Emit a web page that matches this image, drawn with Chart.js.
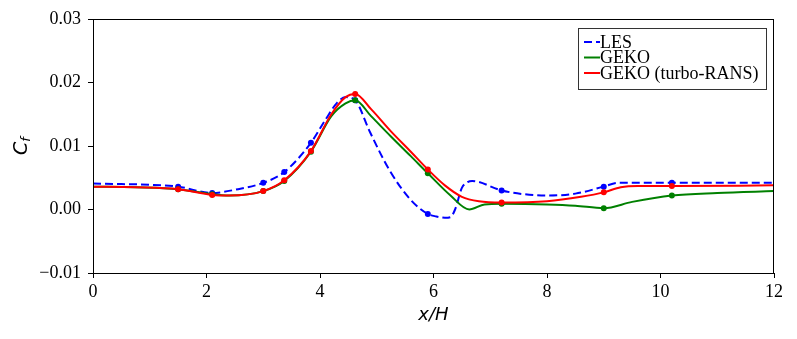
<!DOCTYPE html>
<html>
<head>
<meta charset="utf-8">
<script src="https://cdn.jsdelivr.net/npm/chart.js@4/dist/chart.umd.min.js"></script>
<style>
  html, body { margin: 0; padding: 0; background: #fff; }
  #wrap { width: 797px; height: 339px; }
</style>
</head>
<body>
<div id="wrap"><canvas id="cf" width="797" height="339"></canvas></div>
<script>
// data
const lesX  = [0, 0.5, 1.0, 1.5, 2.1, 2.5, 3.0, 3.37, 3.84, 4.1, 4.3, 4.45, 4.62, 4.88, 5.23, 5.6, 5.9, 6.05, 6.2, 6.3, 6.38, 6.5, 6.6, 6.68, 7.2, 7.6, 8.0, 8.5, 9.0, 9.25, 10.2, 11.0, 12.0];
const lesY  = [0.0041, 0.0040, 0.0039, 0.0036, 0.0026, 0.0031, 0.0042, 0.0059, 0.0105, 0.0142, 0.0168, 0.0177, 0.0172, 0.0122, 0.0061, 0.0015, -0.0007, -0.0011, -0.0013, -0.0012, 0.0000, 0.0034, 0.0043, 0.0045, 0.0030, 0.0024, 0.0022, 0.0025, 0.0036, 0.0042, 0.0042, 0.0042, 0.0042];

const gekoX = [0, 0.75, 1.5, 2.1, 2.4, 3.0, 3.37, 3.84, 4.2, 4.45, 4.62, 4.9, 5.25, 5.6, 5.9, 6.3, 6.63, 6.9, 7.2, 8.0, 8.5, 9.0, 9.5, 10.2, 11.0, 12.0];
const gekoY = [0.0036, 0.0035, 0.0032, 0.0024, 0.0022, 0.0029, 0.0045, 0.0091, 0.0147, 0.0167, 0.0172, 0.0147, 0.0115, 0.0084, 0.0057, 0.0022, 0.0000, 0.0008, 0.0009, 0.0008, 0.0006, 0.0002, 0.0012, 0.0022, 0.0026, 0.0029];

const turboX = [0, 0.75, 1.5, 2.1, 2.4, 3.0, 3.37, 3.84, 4.2, 4.45, 4.62, 4.9, 5.25, 5.6, 5.9, 6.2, 6.5, 6.8, 7.2, 8.0, 8.6, 9.0, 9.3, 9.6, 10.2, 12.0];
const turboY = [0.0036, 0.0035, 0.0032, 0.0023, 0.0022, 0.0029, 0.0046, 0.0092, 0.0150, 0.0177, 0.0182, 0.0158, 0.0123, 0.0091, 0.0063, 0.0038, 0.0020, 0.0013, 0.0011, 0.0013, 0.0020, 0.0027, 0.0035, 0.0037, 0.0037, 0.0038];

// stations where markers are drawn
const markX = [1.5, 2.1, 3.0, 3.37, 3.84, 4.62, 5.9, 7.2, 9.0, 10.2];

const seriesNames = ['LES', 'GEKO', 'GEKO (turbo-RANS)'];
const seriesColors = ['#0000ff', '#008000', '#ff0000'];

const xTicks = [0, 2, 4, 6, 8, 10, 12];
const yTicks = [-0.01, 0.00, 0.01, 0.02, 0.03];

const serif = "'Liberation Serif', 'Times New Roman', serif";
const sans  = "'DejaVu Sans', sans-serif";

function pts(xs, ys) {
  return xs.map((x, i) => ({ x: x, y: ys[i] }));
}

function ds(i, xs, ys, dash, order) {
  return {
    label: seriesNames[i],
    data: pts(xs, ys),
    borderColor: seriesColors[i],
    backgroundColor: seriesColors[i],
    borderWidth: 2,
    borderDash: dash,
    cubicInterpolationMode: 'monotone',
    pointRadius: c => markX.includes(c.raw.x) ? 3 : 0,
    pointBorderWidth: 0,
    pointHoverRadius: 0,
    order: order
  };
}

// frame, axis titles and legend box like matplotlib
const decor = {
  id: 'decor',
  afterDraw(chart) {
    const ctx = chart.ctx;
    const a = chart.chartArea;
    ctx.save();
    ctx.strokeStyle = '#000';
    ctx.lineWidth = 1;
    ctx.strokeRect(a.left + 0.5, a.top + 0.5, a.right - a.left - 1, a.bottom - a.top);

    // x title
    ctx.fillStyle = '#000';
    ctx.font = 'italic 18px ' + sans;
    ctx.textAlign = 'center';
    ctx.textBaseline = 'middle';
    ctx.fillText('x/H', (a.left + a.right) / 2, 315);

    // y title C_f
    ctx.save();
    ctx.translate(22, 146);
    ctx.rotate(-Math.PI / 2);
    ctx.textAlign = 'left';
    ctx.font = 'italic 19px ' + sans;
    const cw = ctx.measureText('C').width;
    ctx.font = 'italic 13px ' + sans;
    const fw = ctx.measureText('f').width;
    const x0 = -(cw + fw) / 2;
    ctx.font = 'italic 19px ' + sans;
    ctx.fillText('C', x0, 0);
    ctx.font = 'italic 13px ' + sans;
    ctx.fillText('f', x0 + cw, 5);
    ctx.restore();

    // legend
    const bx = 578, by = 28, bw = 188, bh = 61;
    ctx.fillStyle = '#fff';
    ctx.fillRect(bx, by, bw, bh);
    ctx.strokeStyle = '#333';
    ctx.strokeRect(bx + 0.5, by + 0.5, bw, bh);
    ctx.font = '18px ' + serif;
    ctx.textAlign = 'left';
    ctx.textBaseline = 'middle';
    chart.data.datasets.forEach((d, i) => {
      const y = 42 + i * 15.5;
      ctx.strokeStyle = d.borderColor;
      ctx.lineWidth = 2;
      ctx.setLineDash(d.borderDash || []);
      ctx.beginPath();
      ctx.moveTo(584, y);
      ctx.lineTo(600, y);
      ctx.stroke();
      ctx.setLineDash([]);
      ctx.fillStyle = '#000';
      ctx.fillText(d.label, 600, y + 1);
    });
    ctx.restore();
  }
};

new Chart(document.getElementById('cf'), {
  type: 'line',
  data: {
    datasets: [
      ds(0, lesX, lesY, [8, 4], 3),
      ds(1, gekoX, gekoY, [], 2),
      ds(2, turboX, turboY, [], 1)
    ]
  },
  options: {
    responsive: false,
    animation: false,
    devicePixelRatio: 1,
    layout: { padding: { top: 19, right: 23, left: 0, bottom: 0 } },
    plugins: { legend: { display: false }, tooltip: { enabled: false } },
    scales: {
      x: {
        type: 'linear',
        min: 0, max: 12,
        afterFit: s => { s.height = 66; },
        afterBuildTicks: s => { s.ticks = xTicks.map(v => ({ value: v })); },
        grid: { drawOnChartArea: false, drawTicks: true, tickLength: 5, color: '#000' },
        border: { display: true, color: '#000', width: 1 },
        ticks: { color: '#000', font: { family: serif, size: 18 }, padding: 3, maxRotation: 0 }
      },
      y: {
        type: 'linear',
        min: -0.01, max: 0.03,
        afterFit: s => { s.width = 93; },
        afterBuildTicks: s => { s.ticks = yTicks.map(v => ({ value: v })); },
        grid: { drawOnChartArea: false, drawTicks: true, tickLength: 5, color: '#000' },
        border: { display: true, color: '#000', width: 1 },
        ticks: {
          color: '#000', font: { family: serif, size: 18 }, padding: 7,
          callback: v => (v < 0 ? '\u2212' : '') + Math.abs(v).toFixed(2)
        }
      }
    }
  },
  plugins: [decor]
});
</script>
</body>
</html>
